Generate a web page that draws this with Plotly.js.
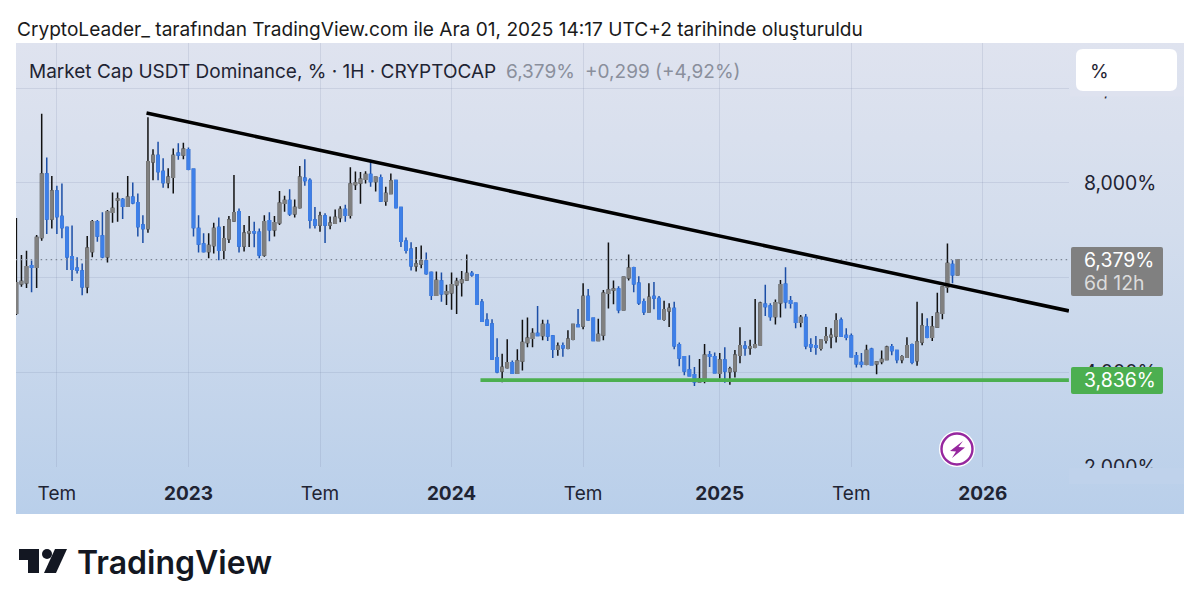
<!DOCTYPE html>
<html>
<head>
<meta charset="utf-8">
<script src="https://cdn.plot.ly/plotly-3.0.1.min.js"></script>
<style>
  html, body { margin: 0; padding: 0; background: #ffffff; }
  #pane { position: absolute; left: 16px; top: 43px; width: 1168px; height: 471px;
          background: linear-gradient(to bottom, #dfe3ef 0%, #d3dded 40%, #b9cfea 100%); }
  #chart { position: absolute; left: 0; top: 0; width: 1200px; height: 610px; }
</style>
</head>
<body>
<div id="pane"></div>
<div id="chart"></div>
<script>
// weekly candles, first one is the week of 2022-05-09
var first_week = Date.UTC(2022, 4, 9);

var open_vals = [
  5.25,5.87,5.89,6.25,6.22,6.85,8.19,7.24,7.83,7.29,
  7.06,6.44,6.20,6.14,5.81,6.55,7.18,6.88,6.44,7.38,
  7.64,7.65,7.51,7.70,7.58,7.11,7.04,8.45,8.58,8.24,
  8.01,8.12,8.63,8.59,8.70,8.29,7.04,6.71,6.55,6.68,
  7.06,6.58,6.82,7.20,7.39,6.67,6.95,6.97,6.96,6.48,
  7.20,7.01,7.16,7.57,7.63,7.35,7.48,8.10,8.05,7.22,
  7.11,7.30,7.11,7.15,7.27,7.44,7.32,7.97,8.00,8.08,
  8.18,8.03,8.11,7.62,7.78,8.05,7.48,6.77,6.60,6.25,
  6.29,6.35,6.11,5.63,5.93,5.66,5.68,5.85,5.90,5.95,
  6.09,6.06,5.48,5.10,5.02,4.31,4.03,4.10,4.20,3.98,
  4.24,4.63,4.72,4.82,4.78,5.01,4.77,4.49,4.56,4.51,
  4.70,5.00,4.98,5.60,5.14,4.67,4.79,5.67,5.74,5.76,
  5.32,6.00,6.21,5.88,5.49,5.28,5.60,5.56,5.12,5.30,
  5.35,4.58,4.33,4.05,3.95,3.80,3.85,4.37,4.33,3.98,
  4.26,4.02,4.03,4.36,4.55,4.52,4.53,4.58,5.44,5.40,
  5.18,5.47,5.86,5.51,5.46,5.06,5.16,4.58,4.56,4.51,
  4.68,4.75,4.77,5.10,4.78,4.77,4.35,4.21,4.17,4.49,
  4.18,4.23,4.27,4.54,4.46,4.27,4.32,4.58,4.25,4.64,
  4.96,4.74,4.96,5.25,5.80,6.28,6.06
];
var close_vals = [
  5.89,5.92,6.23,6.22,6.85,8.19,7.24,7.83,7.29,7.06,
  6.44,6.18,6.16,5.81,6.62,7.18,6.88,6.44,7.39,7.46,
  7.66,7.51,7.70,7.58,7.08,7.04,8.45,8.58,8.24,8.01,
  8.12,8.58,8.59,8.71,8.29,7.06,6.71,6.55,6.68,7.04,
  6.58,6.82,7.22,7.37,6.67,6.94,6.97,6.95,6.48,7.18,
  7.01,7.16,7.57,7.63,7.35,7.48,8.12,8.05,7.22,7.11,
  7.30,7.11,7.15,7.27,7.44,7.32,7.98,8.00,8.08,8.18,
  8.03,8.12,7.62,7.78,8.04,7.48,6.77,6.58,6.25,6.29,
  6.35,6.09,5.63,5.94,5.66,5.70,5.85,5.92,5.95,6.09,
  6.06,5.44,5.08,5.00,4.28,4.01,4.10,4.20,3.98,4.24,
  4.63,4.72,4.82,4.78,5.01,4.77,4.49,4.55,4.52,4.70,
  5.01,4.97,5.60,5.11,4.67,4.80,5.67,5.74,5.76,5.32,
  6.01,6.20,5.87,5.47,5.28,5.58,5.57,5.13,5.32,5.35,
  4.56,4.30,4.03,3.93,3.80,3.86,4.36,4.34,3.99,4.26,
  4.03,4.07,4.36,4.56,4.52,4.54,4.58,5.46,5.39,5.18,
  5.47,5.85,5.49,5.46,5.06,5.16,4.56,4.54,4.53,4.68,
  4.75,4.78,5.09,4.77,4.74,4.33,4.18,4.17,4.46,4.16,
  4.22,4.27,4.53,4.46,4.27,4.33,4.56,4.22,4.64,4.98,
  4.74,4.96,5.25,5.80,6.30,6.06,6.379
];
var high_vals = [
  7.26,6.48,6.57,6.36,6.90,9.46,8.54,8.15,7.94,7.99,
  7.08,7.10,6.43,6.30,6.88,7.22,7.22,7.38,7.43,7.80,
  7.80,7.68,8.15,8.01,7.78,7.32,9.39,8.71,8.87,8.52,
  8.31,8.73,8.84,8.85,8.75,8.29,7.32,6.94,6.94,7.16,
  7.27,7.09,7.30,8.17,7.46,7.11,7.30,7.18,7.04,7.32,
  7.38,7.30,7.83,7.73,7.87,7.65,8.36,8.50,8.10,7.49,
  7.39,7.36,7.29,7.44,7.51,7.54,8.33,8.24,8.23,8.25,
  8.49,8.13,8.18,7.92,8.20,8.06,7.48,6.85,6.75,6.65,
  6.68,6.53,6.13,6.13,6.11,5.85,6.11,6.00,6.14,6.49,
  6.14,6.07,5.55,5.25,5.12,4.72,4.39,4.70,4.25,4.49,
  5.11,5.16,4.93,5.40,5.11,5.11,4.79,4.63,4.63,4.89,
  5.01,5.34,5.88,5.76,5.14,5.13,5.74,6.74,5.94,5.82,
  6.02,6.49,6.23,6.03,5.56,5.88,5.91,5.61,5.51,5.46,
  5.49,4.63,4.33,4.36,4.11,4.28,4.60,4.45,4.42,4.41,
  4.53,4.12,4.47,4.95,4.66,4.69,5.55,5.49,5.85,5.46,
  5.54,5.95,6.22,5.61,5.47,5.21,5.23,4.72,4.77,4.68,
  4.96,4.93,5.25,5.16,4.93,4.82,4.43,4.41,4.58,4.52,
  4.23,4.46,4.56,4.60,4.47,4.36,4.74,4.61,5.49,5.25,
  5.14,5.19,5.68,5.82,6.72,6.37,6.39
];
var low_vals = [
  5.21,5.81,5.78,5.69,5.78,6.78,6.92,7.04,6.92,6.83,
  6.16,5.93,6.09,5.63,5.67,6.43,6.76,6.41,6.32,7.16,
  7.18,7.24,7.50,7.55,6.87,6.73,6.95,8.06,8.06,7.90,
  7.89,7.78,8.49,8.50,8.27,6.87,6.53,6.53,6.41,6.51,
  6.37,6.39,6.73,7.18,6.53,6.55,6.65,6.64,6.41,6.44,
  6.77,6.87,7.11,7.39,7.30,7.27,7.46,7.94,7.04,7.04,
  6.97,6.73,7.02,7.14,7.17,7.18,7.25,7.85,7.56,7.99,
  7.92,7.82,7.60,7.52,7.77,7.46,6.65,6.51,6.15,6.13,
  6.20,6.06,5.53,5.62,5.49,5.42,5.32,5.23,5.60,5.93,
  6.02,5.42,5.07,4.98,4.27,3.98,3.79,4.08,3.97,3.97,
  4.04,4.53,4.53,4.76,4.68,4.66,4.30,4.35,4.33,4.49,
  4.68,4.96,4.91,5.09,4.66,4.66,4.68,5.35,5.44,5.25,
  5.31,5.94,5.69,5.42,5.21,5.27,5.33,5.12,5.09,4.96,
  4.49,4.13,3.94,3.91,3.71,3.79,3.77,4.11,3.98,3.87,
  3.78,3.74,3.89,4.19,4.35,4.37,4.51,4.58,5.19,5.09,
  5.01,5.16,5.35,5.35,4.93,4.95,4.49,4.43,4.37,4.46,
  4.61,4.51,4.63,4.76,4.68,4.32,4.10,4.10,4.15,4.15,
  3.96,4.17,4.26,4.36,4.19,4.19,4.31,4.17,4.14,4.57,
  4.72,4.66,4.96,5.12,5.68,5.88,6.05
];

var x_tick_dates = ['2022-07-04','2023-01-02','2023-07-03','2024-01-01','2024-07-01','2025-01-06','2025-07-07','2026-01-05'];
var x_tick_text = ['Tem','<b>2023</b>','Tem','<b>2024</b>','Tem','<b>2025</b>','Tem','<b>2026</b>'];
var y_tick_vals = [2,4,6,8,10];
var y_tick_text = ['2,000%','4,000%','6,000%','8,000%','10,000%'];

var trend_dates = ['2022-11-05','2026-05-04'];
var trend_vals = [9.478,5.297];
var support_dates = ['2024-02-10','2026-05-04'];
var support_vals = [3.836,3.836];
var last_dates = ['2022-05-08','2026-05-04'];
var last_vals = [6.379,6.379];

var x_range = ['2022-05-08 11:00','2026-05-04 03:50'];
var y_range = [2,10.957];

var weeks = [];
for (var i = 0; i < open_vals.length; i++) {
    weeks.push(new Date(first_week + i * 7 * 86400000).toISOString().slice(0,10));
}

// bodies without wicks, drawn over the wick trace so the outline keeps the fill colour
var body_high = [], body_low = [];
for (var j = 0; j < open_vals.length; j++) {
    body_high.push(Math.max(open_vals[j], close_vals[j]));
    body_low.push(Math.min(open_vals[j], close_vals[j]));
}

var gray = '#808080', blue = '#3f80e8', dark_blue = '#1b4ea6';

var wicks = {
    type: 'candlestick', x: weeks, open: open_vals, high: high_vals, low: low_vals, close: close_vals,
    increasing: {line: {color: '#111111', width: 1.5}, fillcolor: gray},
    decreasing: {line: {color: dark_blue, width: 1.5}, fillcolor: blue},
    whiskerwidth: 0, hoverinfo: 'skip', showlegend: false
};
var bodies = {
    type: 'candlestick', x: weeks, open: open_vals, high: body_high, low: body_low, close: close_vals,
    increasing: {line: {color: gray, width: 1.5}, fillcolor: gray},
    decreasing: {line: {color: blue, width: 1.5}, fillcolor: blue},
    whiskerwidth: 0, hoverinfo: 'skip', showlegend: false
};
var last_line = {
    type: 'scatter', mode: 'lines', x: last_dates, y: last_vals,
    line: {color: '#7c8593', width: 1.2, dash: '1.5px 3.5px'}, hoverinfo: 'skip', showlegend: false
};
var trend = {
    type: 'scatter', mode: 'lines', x: trend_dates, y: trend_vals,
    line: {color: '#000000', width: 3.6}, hoverinfo: 'skip', showlegend: false
};
var support = {
    type: 'scatter', mode: 'lines', x: support_dates, y: support_vals,
    line: {color: '#4caf50', width: 3.6}, hoverinfo: 'skip', showlegend: false
};

// page pixels to paper coordinates of the plot area (16..1069, 43..467)
function px(x) { return (x - 16) / 1053; }
function py(y) { return (467 - y) / 424; }

function round_box(x0, y0, x1, y1, r) {
    var rx = r / 1053, ry = r / 424;
    var a = px(x0), b = px(x1), t = py(y0), d = py(y1);
    return 'M' + (a + rx) + ',' + t + ' L' + (b - rx) + ',' + t + ' Q' + b + ',' + t + ' ' + b + ',' + (t - ry) +
        ' L' + b + ',' + (d + ry) + ' Q' + b + ',' + d + ' ' + (b - rx) + ',' + d +
        ' L' + (a + rx) + ',' + d + ' Q' + a + ',' + d + ' ' + a + ',' + (d + ry) +
        ' L' + a + ',' + (t - ry) + ' Q' + a + ',' + t + ' ' + (a + rx) + ',' + t + ' Z';
}
function poly(pts) {
    var s = '';
    for (var k = 0; k < pts.length; k++) {
        s += (k ? ' L' : 'M') + px(pts[k][0]) + ',' + py(pts[k][1]);
    }
    return s + ' Z';
}
function paper_shape(extra) {
    extra.xref = 'paper'; extra.yref = 'paper'; extra.layer = 'above';
    if (!extra.line) extra.line = {width: 0};
    return extra;
}

var shapes = [
    // the time pane and the unit button sit over the two outer price labels
    paper_shape({type: 'rect', x0: px(1069), x1: px(1184), y0: py(468), y1: py(484), fillcolor: '#bfd2eb'}),
    paper_shape({type: 'rect', x0: px(1070), x1: px(1184), y0: py(90), y1: py(96.5), fillcolor: '#dee2ef'}),
    paper_shape({type: 'path', path: round_box(1076, 49, 1177, 91, 7), fillcolor: '#ffffff'}),
    paper_shape({type: 'path', path: round_box(1071, 247, 1163, 296, 2), fillcolor: '#808080'}),
    paper_shape({type: 'path', path: round_box(1071, 367, 1163, 394, 2), fillcolor: '#4caf50'}),
    paper_shape({type: 'circle', x0: px(939), x1: px(975), y0: py(467), y1: py(431), fillcolor: '#ffffff', line: {width: 0}}),
    paper_shape({type: 'circle', x0: px(941.5), x1: px(972.5), y0: py(464.5), y1: py(433.5), fillcolor: '#ffffff', line: {color: '#96279e', width: 2.4}}),
    paper_shape({type: 'path', path: poly([[963,441],[950,451],[956,451.5],[952,458],[965,447.5],[958.5,447]]), fillcolor: '#96279e'}),
    // logo
    paper_shape({type: 'path', path: poly([[19,549],[39,549],[39,573],[28,573],[28,560],[19,560]]), fillcolor: '#131722'}),
    paper_shape({type: 'circle', x0: px(42), x1: px(52), y0: py(559), y1: py(549), fillcolor: '#131722'}),
    paper_shape({type: 'path', path: poly([[55,549],[67,549],[56,573],[44,573]]), fillcolor: '#131722'})
];

function label(text, x, y, size, color, extra) {
    var a = {
        text: text, xref: 'paper', yref: 'paper', x: px(x), y: py(y), xanchor: 'left', yanchor: 'middle',
        showarrow: false, font: {family: 'Inter, sans-serif', size: size, color: color}
    };
    if (extra) a.font.weight = extra;
    return a;
}

var annotations = [
    label('CryptoLeader_ tarafından TradingView.com ile Ara 01, 2025 14:17 UTC+2 tarihinde oluşturuldu', 15, 29, 19.1, '#1a1a1a'),
    label('Market Cap USDT Dominance, % · 1H · CRYPTOCAP', 27, 71, 19, '#1f2433'),
    label('6,379%', 504, 71, 19, '#8a8f9c'),
    label('+0,299 (+4,92%)', 583, 71, 19, '#8a8f9c'),
    label('%', 1088, 71, 19, '#1f2433'),
    label('6,379%', 1082, 260, 19.4, '#ffffff'),
    label('6d 12h', 1082, 283, 19.4, '#dcdcdc'),
    label('3,836%', 1082, 380, 19.4, '#ffffff'),
    label('TradingView', 75, 562, 32, '#131722', 600)
];

var layout = {
    width: 1200, height: 610,
    margin: {l: 16, r: 131, t: 43, b: 143, pad: 0},
    paper_bgcolor: 'rgba(0,0,0,0)', plot_bgcolor: 'rgba(0,0,0,0)',
    showlegend: false, boxgap: 0.38, dragmode: false,
    font: {family: 'Inter, sans-serif', color: '#1f2433'},
    xaxis: {
        type: 'date', range: x_range, tickmode: 'array', tickvals: x_tick_dates, ticktext: x_tick_text,
        showgrid: true, gridcolor: 'rgba(110,125,160,0.17)', gridwidth: 1, zeroline: false, showline: false,
        ticks: 'outside', ticklen: 9, tickcolor: 'rgba(0,0,0,0)', tickfont: {size: 19},
        rangeslider: {visible: false}
    },
    yaxis: {
        side: 'right', range: y_range, tickmode: 'array', tickvals: y_tick_vals, ticktext: y_tick_text,
        showgrid: true, gridcolor: 'rgba(110,125,160,0.17)', gridwidth: 1, zeroline: false, showline: false,
        ticks: 'outside', ticklen: 10, tickcolor: 'rgba(0,0,0,0)', tickfont: {size: 19.4}
    },
    shapes: shapes,
    annotations: annotations
};

Plotly.newPlot('chart', [last_line, wicks, bodies, trend, support], layout, {displayModeBar: false, staticPlot: true});
</script>
</body>
</html>
